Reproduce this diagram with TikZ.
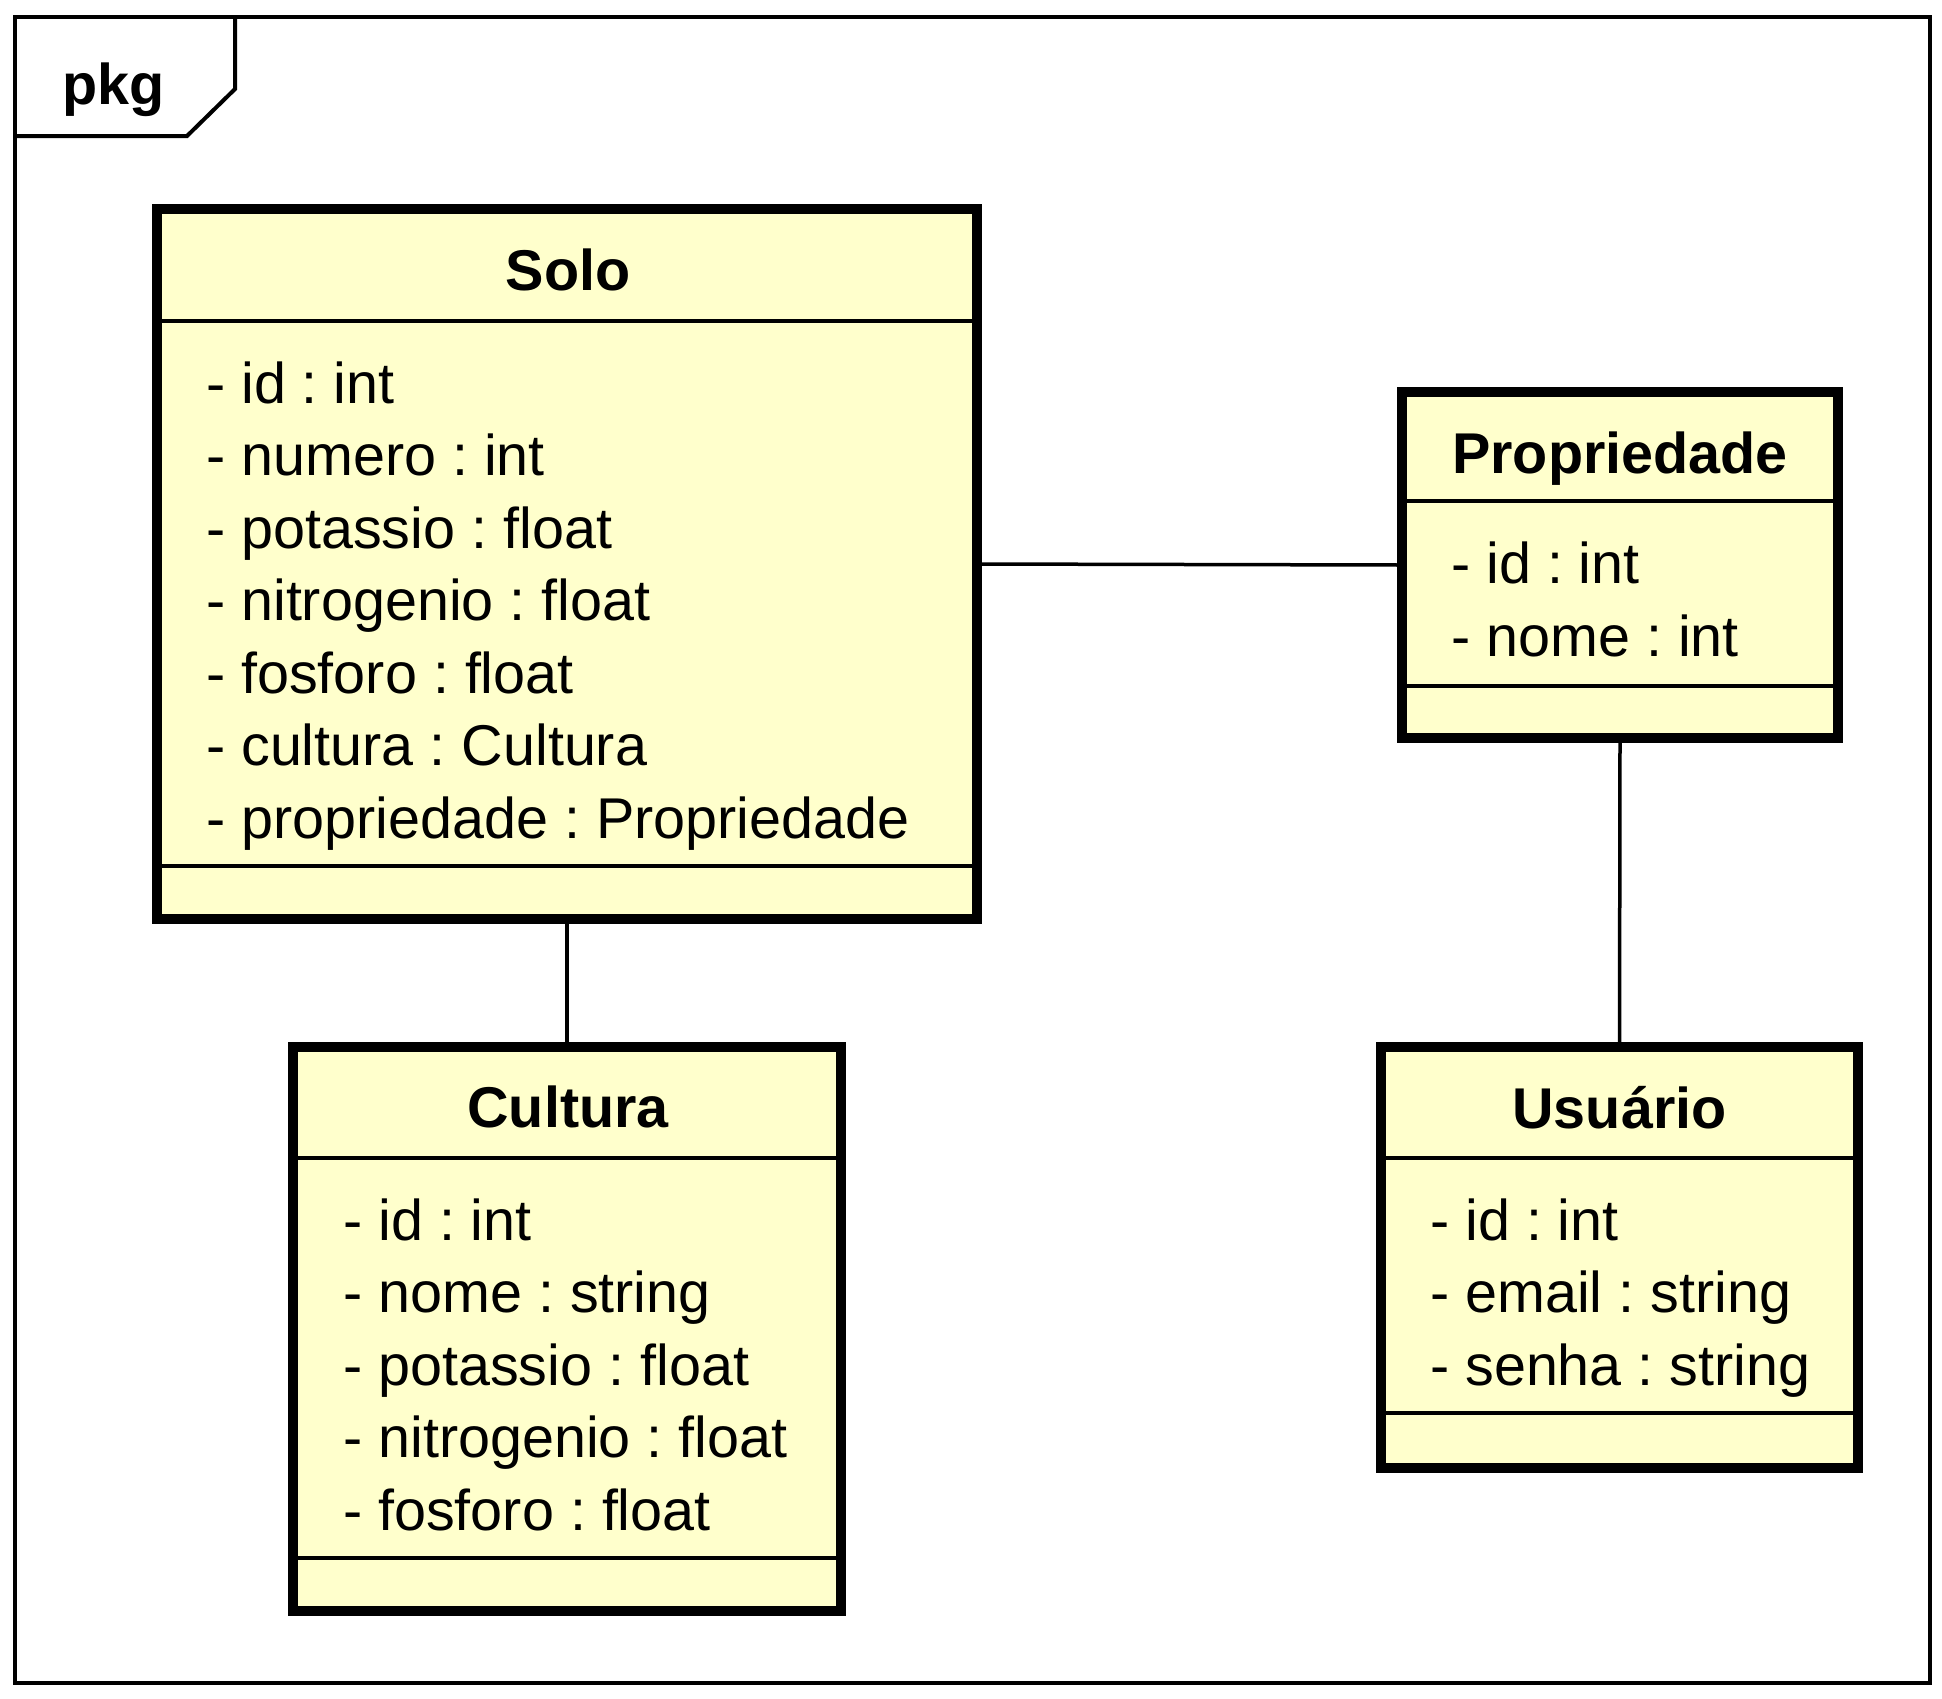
\documentclass[tikz,border=0pt]{standalone}
\usepackage{fontspec}
\setmainfont{Liberation Sans}
\definecolor{classfill}{HTML}{FFFFCC}
\frenchspacing
\begin{document}
\begin{tikzpicture}[x=1pt,y=-1pt,
  classbox/.style={draw=black, line width=10pt, fill=classfill, inner sep=0pt, outer sep=0pt},
  sepline/.style={draw=black, line width=4pt},
  assoc/.style={draw=black, line width=3.5pt},
  frameline/.style={draw=black, line width=4pt},
  title/.style={anchor=base, inner sep=0pt, font=\fontsize{57.5}{68}\selectfont\bfseries},
  attr/.style={anchor=base west, inner sep=0pt, font=\fontsize{57.5}{68}\selectfont}]
\useasboundingbox (0,0) rectangle (1942,1698);
\fill[white] (0,0) rectangle (1942,1698);
% package frame
\draw[frameline] (15,17) rectangle (1930,1683);
\draw[frameline] (15,136) -- (187,136) -- (235,89) -- (235,17);
\node[anchor=base west, inner sep=0pt, font=\fontsize{57.5}{68}\selectfont\bfseries] (pkg) at (62,104) {pkg};
% class boxes
\node[classbox, minimum width=820pt, minimum height=710pt] (solo) at (567,564) {};
\node[classbox, minimum width=436pt, minimum height=346pt] (prop) at (1620,565) {};
\node[classbox, minimum width=548pt, minimum height=564pt] (cult) at (567,1329) {};
\node[classbox, minimum width=477pt, minimum height=421pt] (usu) at (1619.5,1257.5) {};
% separators
\draw[sepline] (157,321) -- (977,321);
\draw[sepline] (157,866) -- (977,866);
\draw[sepline] (1402,501) -- (1838,501);
\draw[sepline] (1402,686) -- (1838,686);
\draw[sepline] (293,1158) -- (841,1158);
\draw[sepline] (293,1558) -- (841,1558);
\draw[sepline] (1381,1158) -- (1858,1158);
\draw[sepline] (1381,1413) -- (1858,1413);
% titles
\node[title] (soloT) at (568,290) {Solo};
\node[title] (propT) at (1620,473) {Propriedade};
\node[title] (cultT) at (568,1127) {Cultura};
\node[title] (usuT) at (1619.5,1128) {Usuário};
% attributes
\node[attr] (s1) at (206,403) {- id : int};
\node[attr] (s2) at (206,475.5) {- numero : int};
\node[attr] (s3) at (206,548) {- potassio : float};
\node[attr] (s4) at (206,620.5) {- nitrogenio : float};
\node[attr] (s5) at (206,693) {- fosforo : float};
\node[attr] (s6) at (206,765.5) {- cultura : Cultura};
\node[attr] (s7) at (206,838) {- propriedade : Propriedade};
\node[attr] (p1) at (1451,583) {- id : int};
\node[attr] (p2) at (1451,656) {- nome : int};
\node[attr] (c1) at (343,1240) {- id : int};
\node[attr] (c2) at (343,1312.5) {- nome : string};
\node[attr] (c3) at (343,1385) {- potassio : float};
\node[attr] (c4) at (343,1457.5) {- nitrogenio : float};
\node[attr] (c5) at (343,1530) {- fosforo : float};
\node[attr] (u1) at (1430,1240) {- id : int};
\node[attr] (u2) at (1430,1312.5) {- email : string};
\node[attr] (u3) at (1430,1385) {- senha : string};
% associations
\draw[assoc] (solo.east) -- (prop.west);
\draw[assoc] (solo.south) -- (cult.north);
\draw[assoc] (prop.south) -- (usu.north);
% redraw box borders over connector ends
\draw[black, line width=10pt] (solo.north west) rectangle (solo.south east);
\draw[black, line width=10pt] (prop.north west) rectangle (prop.south east);
\draw[black, line width=10pt] (cult.north west) rectangle (cult.south east);
\draw[black, line width=10pt] (usu.north west) rectangle (usu.south east);
\end{tikzpicture}
\end{document}
